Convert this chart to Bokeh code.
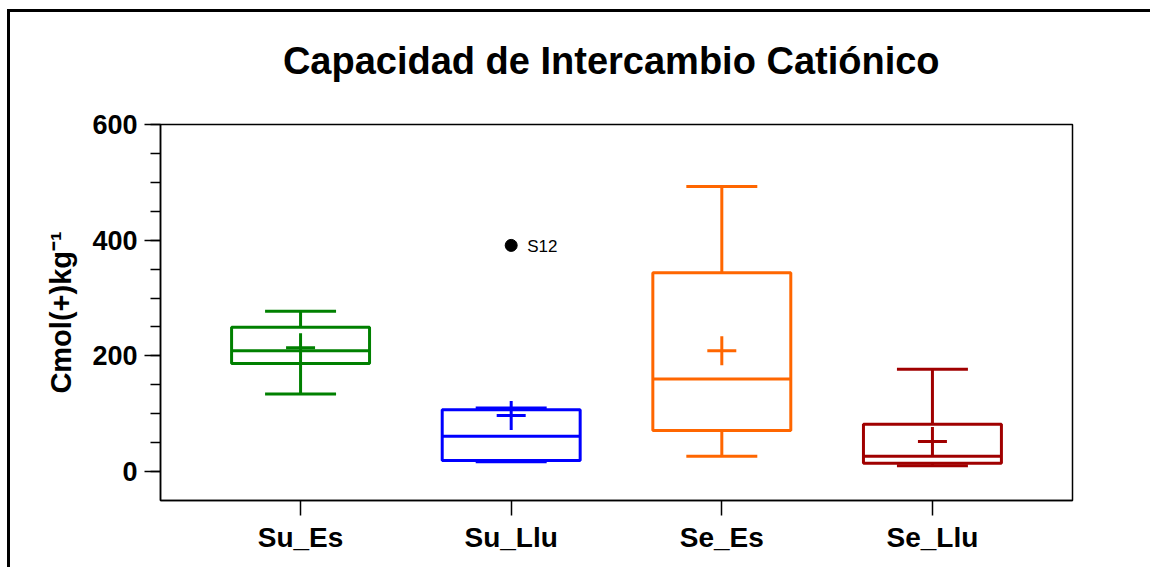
from bokeh.plotting import figure
from bokeh.models import Range1d, FixedTicker, ColumnDataSource, Title, InlineStyleSheet
from bokeh.core.properties import value
from bokeh.embed import file_html
from bokeh.resources import INLINE

# ---- data ----
categories = ["Su_Es", "Su_Llu", "Se_Es", "Se_Llu"]
whisker_low = [134, 17, 26.5, 10]
q1 = [187, 19, 71, 14.4]
median = [209, 61, 160, 26.5]
q3 = [249.5, 106.7, 343.6, 82]
whisker_high = [277, 110, 493, 177]
means = [214, 97, 209, 52]
colors = ["#008000", "#0000FF", "#FF6600", "#A00000"]
outlier_group = ["Su_Llu"]
outlier_value = [391]
outlier_label = ["S12"]
y_ticks = [0, 200, 400, 600]
y_minor = list(range(0, 601, 50))
title_text = "Capacidad de Intercambio  Catiónico"

FONT = "Liberation Sans"
pos = [i + 1 for i in range(len(categories))]
box_half = 0.3275
cap_half = 0.1685

src = ColumnDataSource(dict(
    x=pos,
    left=[v - box_half for v in pos],
    right=[v + box_half for v in pos],
    cap_l=[v - cap_half for v in pos],
    cap_r=[v + cap_half for v in pos],
    lo=whisker_low, q1=q1, med=median, q3=q3, hi=whisker_high,
    mean=means, color=colors,
))

X0, Y0 = 10, 12          # canvas origin on the page
W, H = 1140, 555
FW, FH = 912, 376
BL, BT = 160 - X0, 124 - Y0

frame_css = InlineStyleSheet(css=f"""
:host {{ margin-left: {X0}px; margin-top: {Y0}px; position: relative; }}
:host::before {{ content: ""; position: absolute; left: -3px; top: -3px;
                 width: 3px; height: calc(100% + 3px); background: black; }}
:host::after  {{ content: ""; position: absolute; left: -3px; top: -3px;
                 height: 3px; width: calc(100% + 3px); background: black; }}
""")

p = figure(
    output_backend="svg", toolbar_location=None,
    frame_width=FW, frame_height=FH,
    min_border_left=BL, min_border_right=W - BL - FW,
    min_border_top=BT, min_border_bottom=H - BT - FH,
    x_range=Range1d(0.335, 4.665), y_range=Range1d(-50, 600),
    background_fill_color="white", border_fill_color="white",
    stylesheets=[frame_css],
)

# spacer between title and frame, then the title itself (further from the frame)
p.add_layout(Title(text=" ", text_font_size="1px", standoff=38), "above")
p.add_layout(Title(text=title_text, align="center", text_font=FONT,
                   text_font_size="38px", text_font_style="bold",
                   text_color="black", standoff=4), "above")

p.outline_line_color = "black"
p.outline_line_width = 1.5
p.xgrid.grid_line_color = None
p.ygrid.grid_line_color = None

# whiskers
p.segment(x0="x", y0="lo", x1="x", y1="q1", source=src, line_color="color", line_width=3)
p.segment(x0="x", y0="q3", x1="x", y1="hi", source=src, line_color="color", line_width=3)
# caps
p.segment(x0="cap_l", y0="lo", x1="cap_r", y1="lo", source=src, line_color="color", line_width=3)
p.segment(x0="cap_l", y0="hi", x1="cap_r", y1="hi", source=src, line_color="color", line_width=3)
# boxes
p.quad(left="left", right="right", bottom="q1", top="q3", source=src,
       fill_color=None, line_color="color", line_width=3)
# medians
p.segment(x0="left", y0="med", x1="right", y1="med", source=src, line_color="color", line_width=3)
# means
p.scatter(x="x", y="mean", source=src, marker="cross", size=29,
          line_color="color", line_width=3)

# outlier
ox = [pos[categories.index(g)] for g in outlier_group]
osrc = ColumnDataSource(dict(x=ox, y=outlier_value, label=outlier_label))
p.scatter(x="x", y="y", source=osrc, marker="circle", size=12,
          fill_color="black", line_color="black")
p.text(x="x", y="y", text="label", source=osrc, x_offset=16, y_offset=1,
       text_font=value(FONT), text_font_size="17px", text_baseline="middle",
       text_color="black")

# x axis
xa = p.xaxis[0]
xa.ticker = FixedTicker(ticks=pos)
xa.major_label_overrides = {v: c for v, c in zip(pos, categories)}
xa.major_label_text_font = FONT
xa.major_label_text_font_size = "28px"
xa.major_label_text_font_style = "bold"
xa.major_label_text_color = "black"
xa.major_tick_out = 15
xa.major_tick_in = 0
xa.minor_tick_line_color = None
xa.axis_line_width = 1.5
xa.major_tick_line_width = 1.5
xa.major_label_standoff = 6

# y axis
ya = p.yaxis[0]
ya.ticker = FixedTicker(ticks=y_ticks, minor_ticks=y_minor)
ya.major_label_text_font = FONT
ya.major_label_text_font_size = "27px"
ya.major_label_text_font_style = "bold"
ya.major_label_text_color = "black"
ya.major_tick_out = 16
ya.major_tick_in = 0
ya.minor_tick_out = 10
ya.minor_tick_in = 0
ya.axis_line_width = 1.5
ya.major_tick_line_width = 1.5
ya.minor_tick_line_width = 1.5
ya.major_label_standoff = 7
ya.axis_label = "Cmol(+)kg\u207b\u00b9"
ya.axis_label_text_font = FONT
ya.axis_label_text_font_size = "29px"
ya.axis_label_text_font_style = "bold"
ya.axis_label_text_color = "black"
ya.axis_label_standoff = 12

open("out.html", "w").write(file_html(p, INLINE))
